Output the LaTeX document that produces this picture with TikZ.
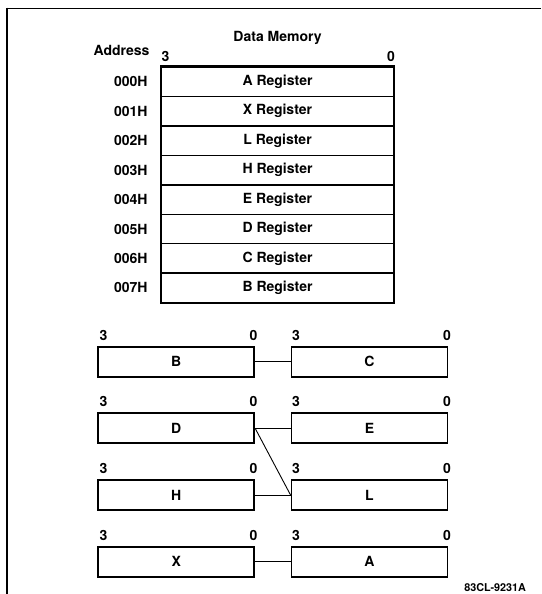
\documentclass[tikz,border=0pt]{standalone}
\usepackage{fontspec}
\setmainfont{TeX Gyre Heros}
\tikzset{
  memrow/.style={draw, line width=1.4pt, minimum width=231.6pt, minimum height=29.45pt, inner sep=0pt},
  regbox/.style={draw, line width=1.9pt, minimum width=156pt, minimum height=30pt, inner sep=0pt},
  bitlbl/.style={inner sep=0pt},
  link/.style={line width=0.9pt}
}
\begin{document}
\begin{tikzpicture}[x=1pt, y=-1pt, font=\fontsize{14}{16}\selectfont\bfseries]
			\useasboundingbox (0,0) rectangle (541,594);
			% Frame
			\draw[line width=1.2pt] (541,8.3) -- (7,8.3);
			\draw[line width=2pt] (7,7.7) -- (7,594);
			
			% Data memory header
			\node (title) at (277.6,37.5) {Data Memory};
			\node[anchor=east] (addr) at (153,50) {Address};
			\node[bitlbl] (m3) at (165.5,56) {3};
			\node[bitlbl] (m0) at (391,56) {0};
			
			% Data memory rows
			\node[memrow] (r0) at (277.5,81.7) {A Register};
			\node[memrow] (r1) at (277.5,111.2) {X Register};
			\node[memrow] (r2) at (277.5,140.6) {L Register};
			\node[memrow] (r3) at (277.5,170.1) {H Register};
			\node[memrow] (r4) at (277.5,199.5) {E Register};
			\node[memrow] (r5) at (277.5,229.0) {D Register};
			\node[memrow] (r6) at (277.5,258.4) {C Register};
			\node[memrow] (r7) at (277.5,287.9) {B Register};
			\draw[line width=2pt] (r0.north west) rectangle (r7.south east);
			
			% Addresses
			\node[anchor=east] (a0) at (151,81.7) {000H};
			\node[anchor=east] (a1) at (151,111.2) {001H};
			\node[anchor=east] (a2) at (151,140.6) {002H};
			\node[anchor=east] (a3) at (151,170.1) {003H};
			\node[anchor=east] (a4) at (151,199.5) {004H};
			\node[anchor=east] (a5) at (151,229.0) {005H};
			\node[anchor=east] (a6) at (151,258.4) {006H};
			\node[anchor=east] (a7) at (151,287.9) {007H};
			
			% Register pairs
			\node[regbox] (B) at (176.2,361.7) {B};
			\node[regbox] (C) at (369.5,361.7) {C};
			\node[regbox] (D) at (176.2,428.3) {D};
			\node[regbox] (E) at (369.5,428.3) {E};
			\node[regbox] (H) at (176.2,495) {H};
			\node[regbox] (L) at (369.5,495) {L};
			\node[regbox] (X) at (176.2,561.7) {X};
			\node[regbox] (A) at (369.5,561.7) {A};
			
			% Bit numbers
			\node[bitlbl] (B3) at (103.4,335) {3};
			\node[bitlbl] (B0) at (253.4,335) {0};
			\node[bitlbl] (C3) at (296,335) {3};
			\node[bitlbl] (C0) at (447,335) {0};
			\node[bitlbl] (D3) at (103.4,401.7) {3};
			\node[bitlbl] (D0) at (253.4,401.7) {0};
			\node[bitlbl] (E3) at (296,401.7) {3};
			\node[bitlbl] (E0) at (447,401.7) {0};
			\node[bitlbl] (H3) at (103.4,468.3) {3};
			\node[bitlbl] (H0) at (253.4,468.3) {0};
			\node[bitlbl] (L3) at (296,468.3) {3};
			\node[bitlbl] (L0) at (447,468.3) {0};
			\node[bitlbl] (X3) at (103.4,535) {3};
			\node[bitlbl] (X0) at (253.4,535) {0};
			\node[bitlbl] (A3) at (296,535) {3};
			\node[bitlbl] (A0) at (447,535) {0};
			
			% Links
			\draw[link] (B.east) -- (C.west);
			\draw[link] (D.east) -- (E.west);
			\draw[link] (D.east) -- (L.west);
			\draw[link] (H.east) -- (L.west);
			\draw[link] (X.east) -- (A.west);
			
			% Figure number
			\node[anchor=east, font=\fontsize{10.8}{12}\selectfont\bfseries] (fig) at (529.5,588) {83CL-9231A};
		\end{tikzpicture}
\end{document}
